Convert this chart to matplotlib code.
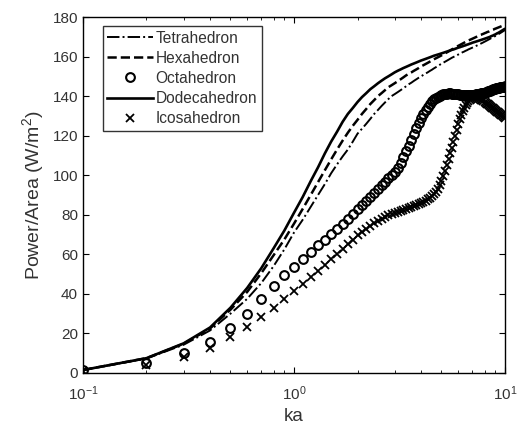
import numpy as np
import matplotlib
matplotlib.use("Agg")
import matplotlib.pyplot as plt

plt.rcParams['font.family'] = ['Liberation Sans', 'DejaVu Sans']
plt.rcParams['mathtext.fontset'] = 'custom'
plt.rcParams['mathtext.rm'] = 'Liberation Sans'
plt.rcParams['mathtext.it'] = 'Liberation Sans'

# ka = 0.1, 0.2, ..., 10.0
ka = np.round(np.arange(1, 101) * 0.1, 1)

tetra = [1.5, 7.3, 14.3, 21.5, 30, 37.5, 45.5, 54, 62.5, 71,
         77.5, 84, 90, 95.5, 101, 105.5, 109.5, 113, 117, 121,
         123.5, 126, 128.5, 131, 133, 135, 136.8, 138.5, 140, 141,
         142, 143, 144, 145, 146, 146.8, 147.7, 148.5, 149.3, 150,
         150.7, 151.4, 152, 152.7, 153.3, 154, 154.6, 155.2, 155.8, 156.4,
         156.9, 157.4, 157.9, 158.4, 158.9, 159.4, 159.8, 160.2, 160.6, 161,
         161.4, 161.8, 162.2, 162.5, 162.9, 163.2, 163.6, 163.9, 164.2, 164.5,
         164.8, 165.1, 165.4, 165.7, 166, 166.3, 166.6, 166.9, 167.2, 167.5,
         167.8, 168.1, 168.4, 168.7, 169, 169.3, 169.5, 169.8, 170.1, 170.4,
         170.7, 171, 171.3, 171.6, 171.9, 172.2, 172.5, 172.8, 173.1, 173.4]

hexa = [1.5, 7.5, 14.8, 22.5, 32, 41, 50.5, 59.5, 67.5, 75.5,
        83, 90, 96.5, 102.5, 108, 113, 117.5, 121.5, 125, 128,
        131, 133.5, 136, 138, 140, 141.5, 143, 144.5, 145.5, 146.5,
        147.5, 148.5, 149.5, 150.5, 151.3, 152, 152.8, 153.5, 154.2, 155,
        155.6, 156.2, 156.8, 157.4, 158, 158.6, 159.1, 159.6, 160.1, 160.6,
        161.1, 161.6, 162.1, 162.6, 163.1, 163.6, 164, 164.5, 165, 165.4,
        165.8, 166.2, 166.6, 167, 167.4, 167.8, 168.1, 168.4, 168.7, 169,
        169.3, 169.6, 169.9, 170.2, 170.5, 170.8, 171, 171.3, 171.5, 171.8,
        172, 172.3, 172.5, 172.7, 173, 173.2, 173.4, 173.6, 173.9, 174.1,
        174.3, 174.5, 174.7, 174.9, 175.1, 175.3, 175.5, 175.7, 175.9, 176.1]

octa = [1.5, 5, 10, 15.7, 23, 30, 37.5, 44, 49.5, 53.5,
        57.5, 61, 64.5, 67.5, 70.5, 73, 75.5, 78, 80.5, 83,
        85, 87, 89, 91, 93, 95, 96.8, 98.5, 100, 101.5,
        103.5, 106, 109, 112, 115, 118, 121, 124, 126.5, 129,
        131, 133, 134.5, 136, 137.3, 138.3, 139.2, 139.8, 140.3, 140.7,
        141, 141.2, 141.3, 141.4, 141.4, 141.3, 141.2, 141.1, 141, 140.9,
        140.8, 140.7, 140.6, 140.6, 140.5, 140.5, 140.5, 140.5, 140.6, 140.6,
        140.7, 140.8, 140.9, 141, 141.1, 141.2, 141.4, 141.5, 141.7, 141.8,
        142, 142.2, 142.4, 142.6, 142.8, 143, 143.2, 143.4, 143.6, 143.8,
        144, 144.1, 144.2, 144.3, 144.4, 144.5, 144.6, 144.7, 144.8, 145]

dodeca = [1.5, 7.5, 15, 23, 33, 43, 53, 63, 72, 81,
          89, 97, 104, 111, 117, 122, 127, 131, 134, 137,
          139.5, 141.5, 143.5, 145, 146.5, 147.8, 149, 150, 151, 152,
          152.8, 153.5, 154.2, 154.8, 155.4, 156, 156.5, 157, 157.5, 158,
          158.4, 158.8, 159.2, 159.6, 160, 160.4, 160.7, 161, 161.3, 161.6,
          161.9, 162.2, 162.5, 162.8, 163.1, 163.4, 163.6, 163.9, 164.2, 164.5,
          164.7, 165, 165.2, 165.5, 165.7, 166, 166.2, 166.5, 166.7, 167,
          167.2, 167.4, 167.6, 167.8, 168, 168.2, 168.4, 168.6, 168.8, 169,
          169.2, 169.4, 169.6, 169.8, 170, 170.3, 170.5, 170.7, 171, 171.2,
          171.5, 171.8, 172, 172.3, 172.6, 172.9, 173.2, 173.5, 173.8, 174]

icosa = [1, 4, 8, 12.6, 18, 23.5, 28.5, 33, 37.5, 41.5,
         45, 48.5, 51.5, 54.5, 57.5, 60, 62.5, 65, 67.5, 70,
         71.5, 73, 74.5, 75.8, 77, 78, 79, 79.8, 80.5, 81,
         81.5, 82, 82.5, 83, 83.5, 84, 84.5, 85, 85.5, 86,
         86.6, 87.2, 87.8, 88.5, 89.5, 90.5, 91.7, 93, 95, 97,
         99.5, 102, 105, 108, 111, 114, 117, 120, 123, 126,
         128.5, 130.5, 132.5, 134, 135.3, 136.5, 137.3, 138, 138.6, 139,
         139.3, 139.5, 139.4, 139.3, 139, 138.6, 138.2, 137.8, 137.4, 137,
         136.6, 136.2, 135.8, 135.4, 135, 134.6, 134.2, 133.8, 133.4, 133,
         132.6, 132.2, 131.8, 131.4, 131, 130.6, 130.2, 129.8, 129.4, 129]

txt = '#333333'

fig = plt.figure(figsize=(5.17, 4.36), dpi=100)
ax = fig.add_axes([0.1605, 0.1445, 0.8163, 0.8165])

ax.plot(ka, tetra, '-.', color='k', lw=1.4, label='Tetrahedron')
ax.plot(ka, hexa, '--', color='k', lw=1.8, label='Hexahedron')
ax.plot(ka, octa, 'o', color='k', mfc='none', ms=6.3, mew=1.5, label='Octahedron')
ax.plot(ka, dodeca, '-', color='k', lw=1.9, label='Dodecahedron')
ax.plot(ka, icosa, 'x', color='k', ms=5.5, mew=1.3, label='Icosahedron')

ax.set_xscale('log')
ax.set_xlim(0.1, 10)
ax.set_ylim(0, 180)
ax.set_yticks(range(0, 181, 20))
ax.tick_params(which='both', direction='in', top=True, right=True,
               labelsize=11, labelcolor=txt)
ax.tick_params(which='major', length=4)
ax.tick_params(which='minor', length=2.5)
ax.tick_params(axis='x', pad=8)
for s in ax.spines.values():
    s.set_linewidth(1.0)

ax.set_xlabel('ka', fontsize=13.5, color=txt, labelpad=4)
ax.set_ylabel('Power/Area (W/m$^2$)', fontsize=14, color=txt, labelpad=5)

leg = ax.legend(loc='upper left', bbox_to_anchor=(0.047, 0.975), fontsize=11.2,
                frameon=True, fancybox=False, edgecolor='k', handlelength=2.9,
                handletextpad=0.2, labelspacing=0.33, borderpad=0.3,
                borderaxespad=0)
leg.get_frame().set_linewidth(1.0)
for t in leg.get_texts():
    t.set_color(txt)

fig.savefig('out.png', dpi=100)
